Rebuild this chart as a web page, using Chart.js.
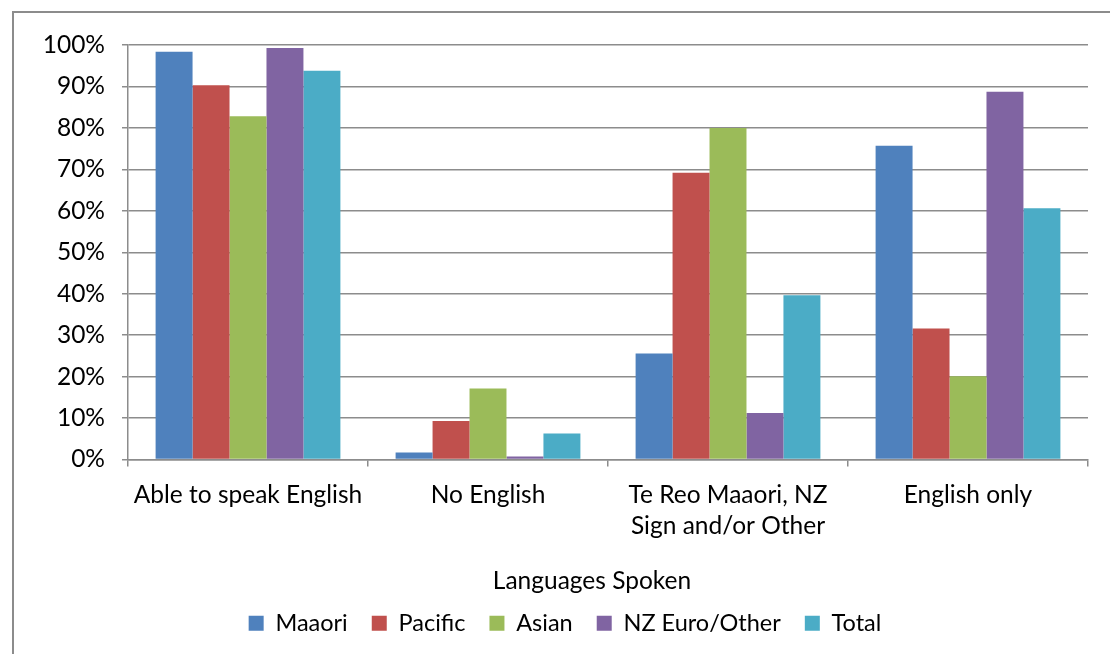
<!DOCTYPE html>
<html>
<head>
<meta charset="utf-8">
<script src="https://cdn.jsdelivr.net/npm/chart.js@4.4.1/dist/chart.umd.min.js"></script>
<style>
  html, body { margin: 0; padding: 0; background: #fff; }
  #wrap { position: relative; width: 1110px; height: 654px; overflow: hidden; }
  #frame { position: absolute; left: 12px; top: 11px; width: 1120px; height: 660px; border: 2px solid #8c8c8c; box-sizing: border-box; }
  canvas { position: absolute; left: 0; top: 0; }
</style>
</head>
<body>
<div id="wrap">
  <div id="frame"></div>
  <canvas id="langChart" width="1110" height="654"></canvas>
</div>
<script>
// data (percent)
const categories = ['Able to speak English', 'No English', ['Te Reo Maaori, NZ', 'Sign and/or Other'], 'English only'];
const maaori = [98.4, 1.7, 25.6, 75.7];
const pacific = [90.3, 9.3, 69.2, 31.6];
const asian = [82.8, 17.1, 80.0, 20.1];
const nzEuro = [99.3, 0.7, 11.2, 88.7];
const total = [93.8, 6.3, 39.6, 60.6];
const seriesNames = ['Maaori', 'Pacific', 'Asian', 'NZ Euro/Other', 'Total'];
const colours = ['#4F81BD', '#C0504D', '#9BBB59', '#8064A2', '#4BACC6'];
const axisTitle = 'Languages Spoken';

const font = 'Lato, "Open Sans", sans-serif';
const seriesData = [maaori, pacific, asian, nzEuro, total];

// the axis title in the original sits a little left of the plot centre
const axisTitlePlugin = {
  id: 'axisTitle',
  afterDraw(chart) {
    const ctx = chart.ctx;
    const area = chart.chartArea;
    ctx.save();
    ctx.font = '24.5px ' + font;
    ctx.fillStyle = '#000';
    ctx.textAlign = 'center';
    ctx.textBaseline = 'middle';
    ctx.fillText(axisTitle, (area.left + area.right) / 2 - 16, area.bottom + 122);
    ctx.restore();
  }
};

const chartData = {
  labels: categories,
  datasets: seriesData.map((vals, i) => ({
    label: seriesNames[i],
    data: vals,
    backgroundColor: colours[i],
    borderWidth: 0,
    categoryPercentage: 0.77,
    barPercentage: 1.0
  }))
};

const chartOptions = {
  responsive: false,
  animation: false,
  layout: { padding: { left: 42, right: 22, top: 45, bottom: 9 } },
  plugins: {
    tooltip: { enabled: false },
    legend: {
      position: 'bottom',
      labels: {
        font: { family: font, size: 23.5 },
        color: '#000',
        boxWidth: 15,
        boxHeight: 15,
        padding: 24
      }
    }
  },
  scales: {
    y: {
      min: 0,
      max: 100,
      ticks: {
        stepSize: 10,
        color: '#000',
        font: { family: font, size: 24.5 },
        padding: 17,
        callback: v => v + '%'
      },
      grid: { color: '#8c8c8c', lineWidth: 1.5, tickLength: 6, tickColor: '#8c8c8c' },
      border: { color: '#8c8c8c', width: 1.5 },
      afterFit: s => { s.width = 86; }
    },
    x: {
      ticks: {
        color: '#000',
        font: { family: font, size: 24.5, lineHeight: 1.27 },
        padding: 13
      },
      grid: { drawOnChartArea: false, offset: true, tickLength: 7, color: '#8c8c8c', lineWidth: 1.5 },
      border: { color: '#8c8c8c', width: 1.5 },
      afterFit: s => { s.height = 128; }
    }
  }
};

new Chart(document.getElementById('langChart').getContext('2d'), {
  type: 'bar',
  data: chartData,
  options: chartOptions,
  plugins: [axisTitlePlugin]
});
</script>
</body>
</html>
